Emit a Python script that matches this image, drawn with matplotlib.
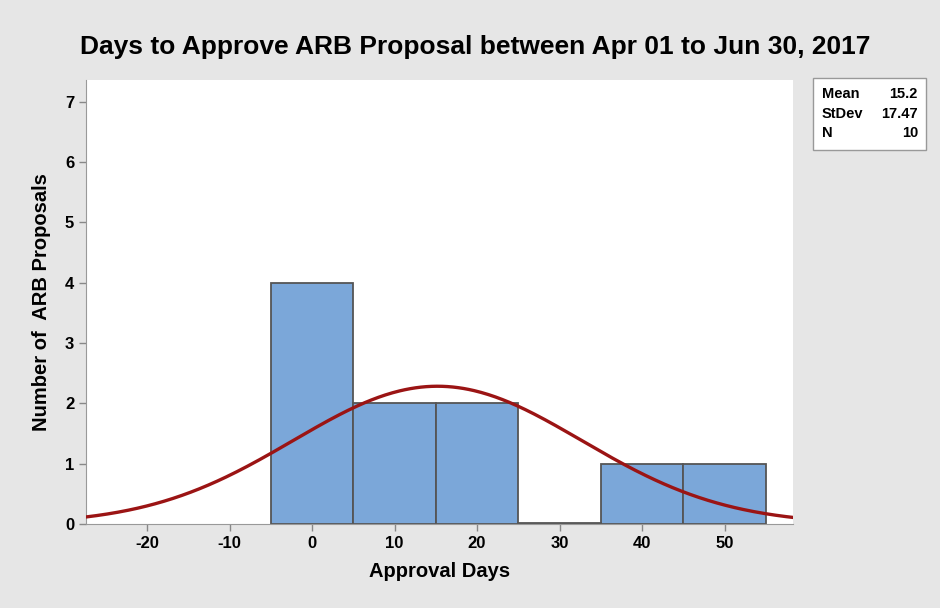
import numpy as np
import matplotlib
matplotlib.use("Agg")
import matplotlib.pyplot as plt
from matplotlib.patches import Rectangle

# Data
bin_centers = [0, 10, 20, 30, 40, 50]
counts = [4, 2, 2, 0, 1, 1]
bin_width = 10
mean_val = 15.2
sd_val = 17.47
n_val = 10
x_ticks = [-20, -10, 0, 10, 20, 30, 40, 50]
y_ticks = [0, 1, 2, 3, 4, 5, 6, 7]

plt.rcParams['font.family'] = ['Liberation Sans', 'DejaVu Sans']
plt.rcParams['axes.unicode_minus'] = False

fig = plt.figure(figsize=(9.4, 6.08), dpi=100)
fig.patch.set_facecolor('#e6e6e6')
ax = fig.add_axes([86/940, 1-524/608, (793-86)/940, (524-80)/608])
ax.set_facecolor('white')

ax.bar(bin_centers, counts, width=bin_width, color='#7ba7d9', edgecolor='#555555',
       linewidth=1.3, zorder=2)
# zero-count bin drawn as a flat line
for c, v in zip(bin_centers, counts):
    if v == 0:
        ax.plot([c - bin_width/2, c + bin_width/2], [0.02, 0.02], color='#555555', lw=1.3, zorder=2)

xs = np.linspace(-27.4, 58.3, 400)
ys = n_val * bin_width / (sd_val * np.sqrt(2*np.pi)) * np.exp(-0.5*((xs-mean_val)/sd_val)**2)
ax.plot(xs, ys, color='#9b1414', lw=2.4, zorder=3)

ax.set_xlim(-27.4, 58.3)
ax.set_ylim(0, 7.36)
ax.set_xticks(x_ticks)
ax.set_yticks(y_ticks)
ax.tick_params(axis='both', labelsize=12, color='#888888', length=5, width=1)
for lab in ax.get_xticklabels() + ax.get_yticklabels():
    lab.set_fontweight('bold')
ax.spines['top'].set_visible(False)
ax.spines['right'].set_visible(False)
ax.spines['left'].set_color('#999999')
ax.spines['bottom'].set_color('#999999')

ax.set_xlabel('Approval Days', fontsize=14.5, fontweight='bold', labelpad=8)
ax.set_ylabel('Number of  ARB Proposals', fontsize=14.5, fontweight='bold', labelpad=10)
fig.text(475/940, 1-47/608, 'Days to Approve ARB Proposal between Apr 01 to Jun 30, 2017',
         ha='center', va='center', fontsize=19, fontweight='bold')

# stats box
bx0, by0, bx1, by1 = 813, 78, 926, 150
fig.patches.append(Rectangle((bx0/940, 1-by1/608), (bx1-bx0)/940, (by1-by0)/608,
                             transform=fig.transFigure, facecolor='white', edgecolor='#999999', lw=1))
rows = [('Mean', '15.2'), ('StDev', '17.47'), ('N', str(n_val))]
for i, (k, v) in enumerate(rows):
    yy = 1 - (94 + i*19.5)/608
    fig.text(822/940, yy, k, ha='left', va='center', fontsize=10.5, fontweight='bold')
    fig.text(918/940, yy, v, ha='right', va='center', fontsize=10.5, fontweight='bold')

fig.savefig('out.png', dpi=100, facecolor=fig.get_facecolor())
